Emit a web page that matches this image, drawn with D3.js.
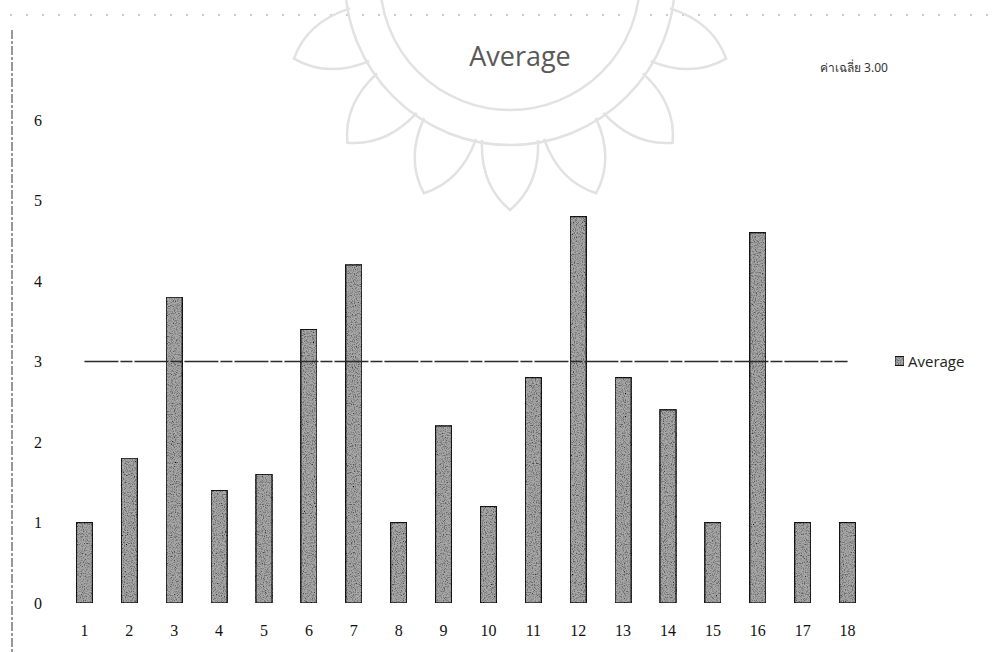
<!DOCTYPE html>
<html>
<head>
<meta charset="utf-8">
<script src="https://cdn.jsdelivr.net/npm/d3@7"></script>
<style>
  html, body { margin: 0; padding: 0; background: #fff; }
  svg { display: block; }
</style>
</head>
<body>
<svg id="chart" width="1005" height="652"></svg>
<script>
// Item numbers and their average scores
const categories = ["1","2","3","4","5","6","7","8","9","10","11","12","13","14","15","16","17","18"];
const averages = [1, 1.8, 3.8, 1.4, 1.6, 3.4, 4.2, 1, 2.2, 1.2, 2.8, 4.8, 2.8, 2.4, 1, 4.6, 1, 1];
const yTicks = [0, 1, 2, 3, 4, 5, 6];
const overallMean = 3.00;
const titleText = "Average";
const meanLabel = "ค่าเฉลี่ย 3.00";
const legendLabel = "Average";

const svg = d3.select("#chart");

const x = d3.scaleBand()
  .domain(categories)
  .range([62, 870])
  .paddingInner(0.64)
  .paddingOuter(0.32);

const y = d3.scaleLinear()
  .domain([0, 6])
  .range([603, 120]);

// speckled grey fill for the bars
const defs = svg.append("defs");
const filt = defs.append("filter").attr("id", "grain")
  .attr("x", 0).attr("y", 0).attr("width", 1).attr("height", 1);
filt.append("feTurbulence").attr("type", "fractalNoise")
  .attr("baseFrequency", 0.9).attr("numOctaves", 2).attr("seed", 3).attr("result", "noise");
filt.append("feColorMatrix").attr("in", "noise").attr("type", "matrix")
  .attr("values", "0 0 0 0 0  0 0 0 0 0  0 0 0 0 0  0 0 0 -2.2 1.25")
  .attr("result", "dots");
filt.append("feComposite").attr("in", "dots").attr("in2", "SourceGraphic")
  .attr("operator", "in").attr("result", "clipped");
filt.append("feMerge").selectAll("feMergeNode")
  .data(["SourceGraphic", "clipped"]).join("feMergeNode").attr("in", d => d);

// page edge marks
svg.append("line")
  .attr("x1", 12).attr("x2", 12).attr("y1", 30).attr("y2", 652)
  .attr("stroke", "#555").attr("stroke-width", 1.2)
  .attr("stroke-dasharray", "9,2,3,2");
svg.append("line")
  .attr("x1", 10).attr("x2", 990).attr("y1", 15).attr("y2", 15)
  .attr("stroke", "#999").attr("stroke-width", 1)
  .attr("stroke-dasharray", "2,14");

// faint seal in the background: rings with a crown of petals
const seal = svg.append("g").attr("fill", "none").attr("stroke", "#e2e2e2").attr("stroke-width", 2.5);
const sealCx = 510, sealCy = -20;
[130, 165].forEach(r => seal.append("path")
  .attr("d", d3.arc()({ innerRadius: r, outerRadius: r, startAngle: Math.PI / 2, endAngle: Math.PI * 1.5 }))
  .attr("transform", `translate(${sealCx},${sealCy})`));
const petalAngles = [-70, -45, -22, 0, 22, 45, 70];
seal.selectAll("path.petal")
  .data(petalAngles)
  .join("path")
  .attr("class", "petal")
  .attr("d", "M -28 0 Q -30 45 0 70 Q 30 45 28 0")
  .attr("transform", a => `translate(${sealCx},${sealCy}) rotate(${a}) translate(0,160)`);

// y axis labels
svg.append("g")
  .attr("transform", "translate(38,0)")
  .call(d3.axisLeft(y).tickValues(yTicks).tickSize(0).tickPadding(0).tickFormat(d3.format("d")))
  .call(g => g.select(".domain").remove())
  .call(g => g.selectAll("text")
    .attr("font-family", "Liberation Serif, DejaVu Serif, serif")
    .attr("font-size", 16).attr("fill", "#111").attr("text-anchor", "middle"));

// x axis labels
svg.append("g")
  .attr("transform", `translate(0,${y(0) + 22})`)
  .call(d3.axisBottom(x).tickSize(0).tickPadding(0))
  .call(g => g.select(".domain").remove())
  .call(g => g.selectAll("text")
    .attr("font-family", "Liberation Serif, DejaVu Serif, serif")
    .attr("font-size", 16).attr("fill", "#111"));

// bars
svg.append("g").selectAll("rect")
  .data(averages)
  .join("rect")
  .attr("x", (d, i) => x(categories[i]))
  .attr("y", d => y(d))
  .attr("width", x.bandwidth())
  .attr("height", d => y(0) - y(d))
  .attr("fill", "#a8a8a8")
  .attr("stroke", "#1e1e1e")
  .attr("stroke-width", 1.4)
  .attr("filter", "url(#grain)");

// overall mean line
svg.append("line")
  .attr("x1", x(categories[0]) + x.bandwidth() / 2)
  .attr("x2", x(categories[categories.length - 1]) + x.bandwidth() / 2)
  .attr("y1", y(overallMean)).attr("y2", y(overallMean))
  .attr("stroke", "#2a2a2a").attr("stroke-width", 1.6)
  .attr("stroke-dasharray", "34,2,12,2");

// title
svg.append("text")
  .attr("x", 520).attr("y", 66)
  .attr("text-anchor", "middle")
  .attr("font-family", "Open Sans, Liberation Sans, sans-serif")
  .attr("font-size", 27).attr("fill", "#595959")
  .text(titleText);

// mean note
svg.append("text")
  .attr("x", 820).attr("y", 72)
  .attr("font-family", "Noto Sans, DejaVu Sans, sans-serif")
  .attr("font-size", 12).attr("fill", "#333")
  .text(meanLabel);

// legend
const lg = svg.append("g").attr("transform", `translate(895,${y(overallMean)})`);
lg.append("rect").attr("x", 0).attr("y", -5).attr("width", 9).attr("height", 9)
  .attr("fill", "#a8a8a8").attr("stroke", "#1e1e1e").attr("stroke-width", 1.2)
  .attr("filter", "url(#grain)");
lg.append("text").attr("x", 13).attr("y", 5)
  .attr("font-family", "Open Sans, Liberation Sans, sans-serif")
  .attr("font-size", 15).attr("fill", "#222")
  .text(legendLabel);
</script>
</body>
</html>
